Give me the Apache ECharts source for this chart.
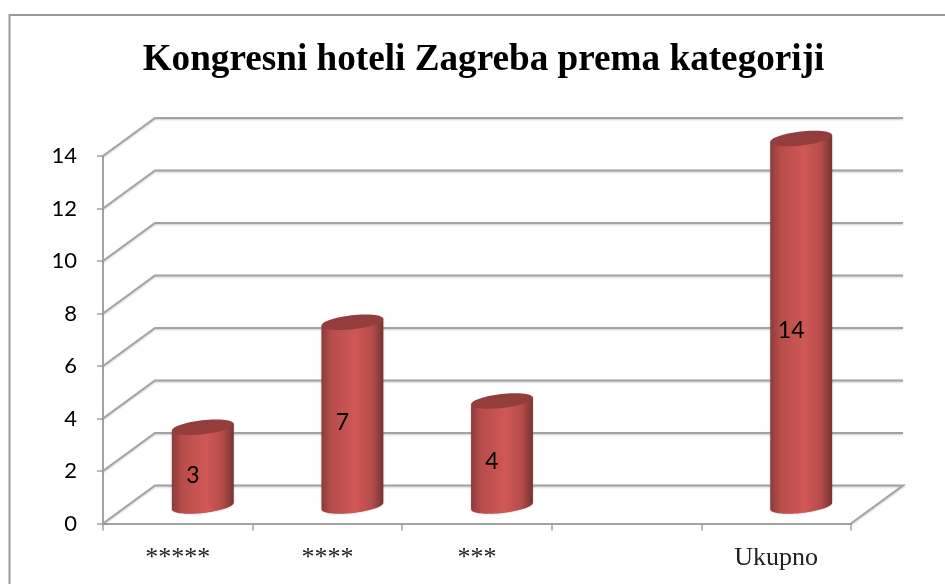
<!DOCTYPE html>
<html>
<head>
<meta charset="utf-8">
<style>html,body{margin:0;padding:0;background:#fff}#c{width:945px;height:584px}</style>
<script src="https://cdn.jsdelivr.net/npm/echarts@6/dist/echarts.min.js"></script>
</head>
<body>
<div id="c"></div>
<script>
var titleText = 'Kongresni hoteli Zagreba prema kategoriji';
var categories = ['*****', '****', '***', '', 'Ukupno'];
var values = [3, 7, 4, null, 14];
var yTicks = [0, 2, 4, 6, 8, 10, 12, 14];

var DEPTH_X = 52, DEPTH_Y = 38, LINE = '#a3a3a3';
var chart = echarts.init(document.getElementById('c'));

function renderWall(params, api) {
  var v = api.value(0);
  var p = api.coord([0, v]);
  var w = api.size([1, 0])[0];
  var L = p[0] - w / 2, R = L + w * categories.length, y = p[1];
  var pts = [[L, y], [L + DEPTH_X, y - DEPTH_Y], [R + DEPTH_X, y - DEPTH_Y]];
  if (v === 0) pts.push([R, y]);
  return {
    type: 'polyline',
    shape: { points: pts },
    style: { stroke: LINE, lineWidth: 2, fill: null, shadowBlur: 2, shadowColor: 'rgba(0,0,0,0.2)', shadowOffsetY: 1 },
    silent: true
  };
}

function ellipsePts(cx, cy, a, b, th, t0, t1, n) {
  var out = [];
  for (var i = 0; i <= n; i++) {
    var t = t0 + (t1 - t0) * i / n;
    out.push([
      cx + a * Math.cos(t) * Math.cos(th) + b * Math.sin(t) * Math.sin(th),
      cy - a * Math.cos(t) * Math.sin(th) + b * Math.sin(t) * Math.cos(th)
    ]);
  }
  return out;
}

function renderBar(params, api) {
  var xi = api.value(0), v = api.value(1);
  var w = api.size([1, 0])[0];
  var base = api.coord([xi, 0]), top = api.coord([xi, v]), mid = api.coord([xi, v / 2]);
  var cx = base[0] + DEPTH_X / 2 - 1;
  var a = w * 0.208, b = 7, th = 6.4 * Math.PI / 180;
  var by = base[1] - DEPTH_Y / 2 + 1.5, ty = top[1] - DEPTH_Y / 2 + 1.5;
  var lower = ellipsePts(cx, by, a, b, th, 0, Math.PI, 40);
  var body = [[cx + a * Math.cos(th), ty - a * Math.sin(th)]].concat(lower);
  body.push([cx - a * Math.cos(th), ty + a * Math.sin(th)]);
  var grad = {
    type: 'linear', x: 0, y: 0, x2: 1, y2: 0,
    colorStops: [
      { offset: 0, color: '#8a3c3a' },
      { offset: 0.15, color: '#b54c4a' },
      { offset: 0.55, color: '#d05856' },
      { offset: 0.82, color: '#b44c4a' },
      { offset: 1, color: '#773331' }
    ]
  };
  return {
    type: 'group',
    children: [
      { type: 'polygon', shape: { points: body }, style: { fill: grad, shadowBlur: 2, shadowColor: 'rgba(0,0,0,0.25)' } },
      { type: 'polygon', shape: { points: ellipsePts(cx, ty, a, b, th, 0, Math.PI * 2, 60) }, style: { fill: '#933e3c' } },
      {
        type: 'text',
        style: {
          text: String(v), x: base[0] + 15, y: mid[1] - 9,
          align: 'center', verticalAlign: 'middle',
          font: '23px Lato', fill: '#000'
        }
      }
    ]
  };
}

chart.setOption({
  animation: false,
  backgroundColor: '#fff',
  title: {
    text: titleText, left: 478.5, top: 37, textAlign: 'center',
    textStyle: { fontFamily: 'Liberation Serif', fontWeight: 'bold', fontSize: 37.2, color: '#000' }
  },
  grid: { left: 103, right: 94, top: 156, bottom: 60.5, containLabel: false },
  xAxis: {
    type: 'category', data: categories, boundaryGap: true,
    axisLine: { lineStyle: { color: LINE, width: 2 } },
    axisTick: { show: true, length: 7, alignWithLabel: false, lineStyle: { color: LINE, width: 1.5 } },
    axisLabel: { interval: 0, margin: 22, fontFamily: 'Liberation Serif', fontSize: 26, color: '#222', hideOverlap: false },
    splitLine: { show: false }
  },
  yAxis: {
    type: 'value', min: 0, max: 14, interval: 2,
    axisLine: { show: true, lineStyle: { color: LINE, width: 2 } },
    axisTick: { show: true, length: 6, lineStyle: { color: LINE, width: 1.5 } },
    axisLabel: { margin: 26, fontFamily: 'Lato', fontSize: 22, color: '#000', padding: [6, 0, 0, 0] },
    splitLine: { show: false }
  },
  series: [
    { type: 'custom', renderItem: renderWall, data: yTicks.map(function (t) { return [t]; }), encode: { y: 0 }, z: 1, silent: true, clip: false },
    { type: 'custom', renderItem: renderBar, data: values.map(function (v, i) { return v === null ? null : [i, v]; }).filter(Boolean), encode: { x: 0, y: 1 }, z: 2, silent: true, clip: false }
  ],
  graphic: [{
    type: 'polyline', z: -1, silent: true,
    shape: { points: [[9.5, 590], [9.5, 15], [950, 15]] },
    style: { fill: 'none', stroke: '#999999', lineWidth: 2 }
  }]
});
</script>
</body>
</html>
